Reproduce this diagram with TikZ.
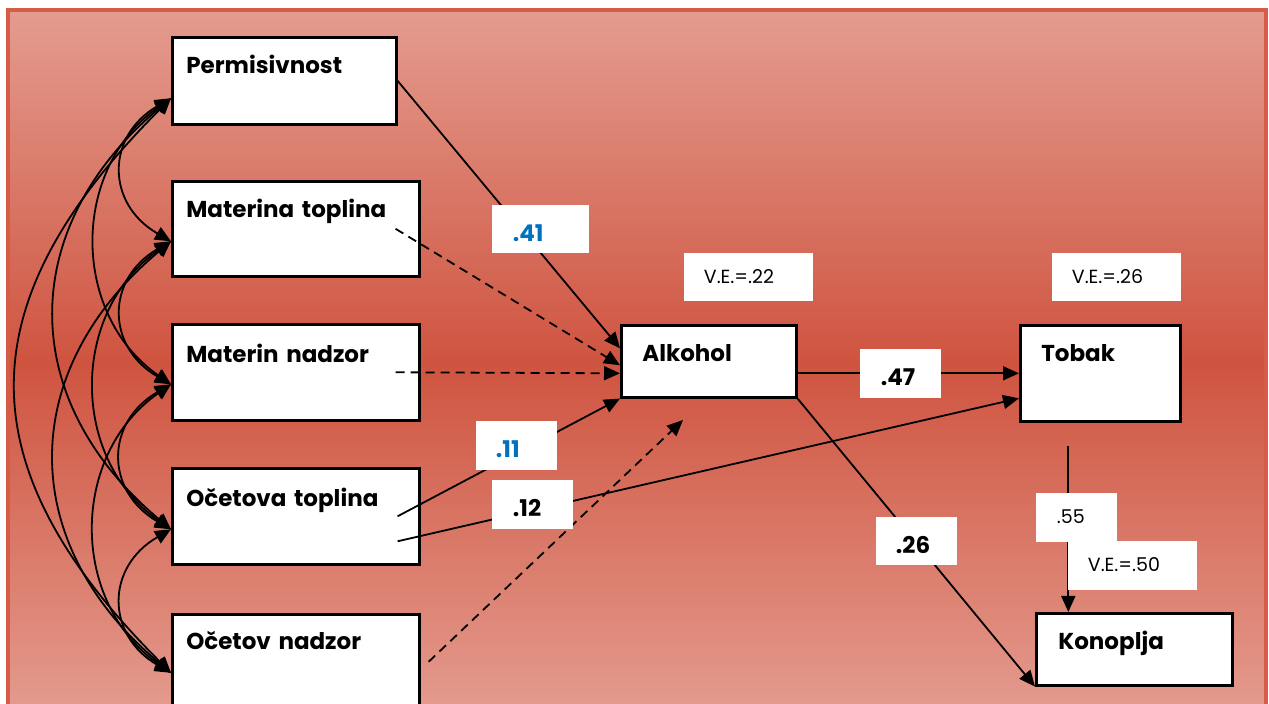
\documentclass[tikz,border=0pt]{standalone}
\usepackage{fontspec}
\setmainfont{Poppins}
\usepackage{xcolor}
\usetikzlibrary{arrows.meta}

\definecolor{bglight}{RGB}{228,156,143}
\definecolor{bgdark}{RGB}{207,84,64}
\definecolor{bgline}{RGB}{214,92,72}
\definecolor{coefblue}{RGB}{0,112,192}

\tikzset{
  var/.style={draw, fill=white, line width=1.3pt, anchor=north west, align=left,
    inner xsep=7pt, inner ysep=0pt, font=\bfseries\fontsize{11.5}{13}\selectfont},
  coef/.style={fill=white, anchor=north west, align=left, inner xsep=10pt,
    inner ysep=0pt, font=\bfseries\fontsize{11.5}{13}\selectfont},
  ve/.style={coef, font=\fontsize{9.5}{11}\selectfont},
  dashedge/.style={dash pattern=on 4.5pt off 3pt}
}

\begin{document}
\begin{tikzpicture}[->,>={Triangle[length=8pt,width=7pt]},x=0.5pt,y=-0.5pt,line width=0.9pt]
  \useasboundingbox (0,0) rectangle (1269,704);
  \clip (0,0) rectangle (1269,704);
  \fill[white] (0,0) rectangle (1269,704);
  \shade[top color=bglight, bottom color=bglight, middle color=bgdark] (8,10) rectangle (1266,716);
  \draw[-,bgline,line width=1.6pt] (8,10) rectangle (1266,716);

  % exogenous variables
  \node[var, text width=98pt,    text height=18pt, text depth=25.5pt] (perm) at (171,36)  {Permisivnost};
  \node[var, text width=109.5pt, text height=18pt, text depth=29.5pt] (mt)   at (171,180) {Materina toplina};
  \node[var, text width=109.5pt, text height=19pt, text depth=29pt]   (mn)   at (171,323) {Materin nadzor};
  \node[var, text width=109.5pt, text height=19pt, text depth=29pt]   (ot)   at (171,467) {Očetova toplina};
  \node[var, text width=109.5pt, text height=17.5pt, text depth=30pt] (on)   at (171,613) {Očetov nadzor};

  % outcomes
  \node[var, inner xsep=10.5pt, text width=66.5pt, text height=18pt, text depth=18pt] (alk) at (620,324)  {Alkohol};
  \node[var, inner xsep=10.5pt, text width=59pt,   text height=18pt, text depth=30pt] (tob) at (1019,324) {Tobak};
  \node[var, inner xsep=11pt,   text width=76pt,   text height=18pt, text depth=18pt] (kon) at (1035,612) {Konoplja};

  % covariances
  \coordinate (c1) at ([yshift=-8.75pt]perm.west);
  \coordinate (c2) at ([yshift=-6.25pt]mt.west);
  \coordinate (c3) at ([yshift=-6pt]mn.west);
  \coordinate (c4) at ([yshift=-6.5pt]ot.west);
  \coordinate (c5) at ([yshift=-5.5pt]on.west);
  \foreach \a/\b/\o/\i/\l in {c1/c2/210/150/1.35, c2/c3/210/150/1.35, c3/c4/210/150/1.35, c4/c5/210/150/1.35,
                              c1/c3/215/145/1.1, c2/c4/215/145/1.1, c3/c5/215/145/1.1,
                              c1/c4/220/140/1.2, c2/c5/220/140/1.2,
                              c1/c5/225/135/1.3}
    \draw[<->] (\a) to[out=\o, in=\i, looseness=\l] (\b);

  % paths
  \coordinate (free) at (683,420);
  \draw (perm.east) -- ([yshift=6.5pt]alk.west);
  \draw[dashedge] ([xshift=-12.5pt]mt.east) -- ([yshift=-2pt]alk.west);
  \draw[dashedge] ([xshift=-12.5pt]mn.east) -- ([yshift=-6pt]alk.west);
  \draw ([xshift=-11.5pt]ot.east) -- (alk.south west);
  \draw ([xshift=-11.5pt,yshift=-12.5pt]ot.east) -- ([yshift=-12.5pt]tob.west);
  \draw[dashedge] ([xshift=4pt]on.east) -- (free);
  \draw ([yshift=-6pt]alk.east) -- (tob.west);
  \draw (alk.south east) -- (kon.south west);
  \draw ([xshift=-16pt,yshift=-11.5pt]tob.south) -- ([xshift=-33pt]kon.north);

  % coefficients
  \node[coef, text=coefblue, inner xsep=10.5pt, text width=27.5pt, text height=18.5pt, text depth=5.5pt] (b41) at (491,204) {.41};
  \node[coef, text=coefblue, text width=20.5pt, text height=18.5pt, text depth=6pt] (b11) at (475,420) {.11};
  \node[coef, inner xsep=10.5pt, text width=19.5pt, text height=18.5pt, text depth=6pt] (b12) at (491,479) {.12};
  \node[coef, inner xsep=10.5pt, text width=19.5pt, text height=18.5pt, text depth=6pt] (b47) at (859,348) {.47};
  \node[coef, text width=20.5pt, text height=18.5pt, text depth=5.5pt] (b26) at (875,516) {.26};
  \node[ve, text width=44.5pt, text height=15.5pt, text depth=8.5pt] (ve1) at (683,252)  {V.E.=.22};
  \node[ve, text width=44.5pt, text height=15.5pt, text depth=8.5pt] (ve2) at (1051,252) {V.E.=.26};
  \node[ve, inner xsep=10.5pt, text width=19.5pt, text height=15.5pt, text depth=9pt] (b55) at (1035,492) {.55};
  \node[ve, text width=44.5pt, text height=15.5pt, text depth=9pt] (ve3) at (1067,540) {V.E.=.50};
\end{tikzpicture}
\end{document}
